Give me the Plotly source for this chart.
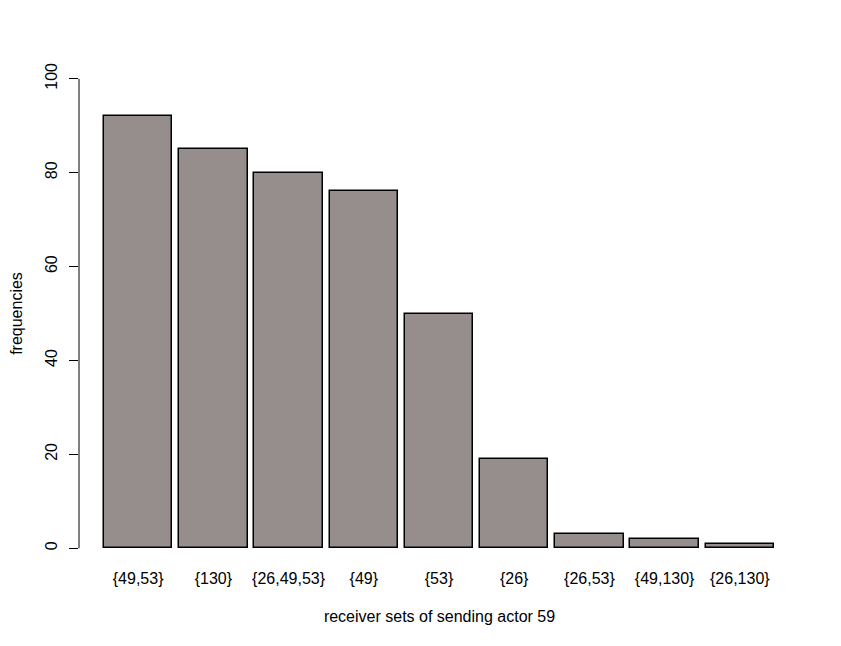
import plotly.graph_objects as go

# receiver sets of sending actor 59 and their frequencies
receiver_sets = ['{49,53}', '{130}', '{26,49,53}', '{49}', '{53}',
                 '{26}', '{26,53}', '{49,130}', '{26,130}']
frequencies = [92, 85, 80, 76, 50, 19, 3, 2, 1]

# R barplot style: width 1, space 0.1
bar_centers = [0.6 + i * 1.1 for i in range(len(receiver_sets))]
y_ticks = [0, 20, 40, 60, 80, 100]

fig = go.Figure()
fig.add_trace(go.Bar(
    x=bar_centers, y=frequencies, width=1.0,
    marker=dict(color='#968e8d', line=dict(color='black', width=1.5)),
    showlegend=False
))

# y axis line only spans 0..100 like base R
fig.add_shape(type='line', xref='paper', yref='y',
              x0=0, x1=0, y0=0, y1=100,
              line=dict(color='black', width=1))

# page body has an 8px margin, so margins are shifted by 8
fig.update_layout(
    width=841, height=646,
    paper_bgcolor='white', plot_bgcolor='white',
    font=dict(family='Liberation Sans, Arial, sans-serif', size=16, color='black'),
    margin=dict(l=71, r=49, t=52, b=87),
    xaxis=dict(
        range=[-0.265, 10.28], automargin=False,
        tickmode='array', tickvals=bar_centers, ticktext=receiver_sets,
        showgrid=False, zeroline=False, showline=False, ticks='',
        ticklabelstandoff=0,
        title=dict(text='receiver sets of sending actor 59', standoff=24,
                   font=dict(size=16))
    ),
    yaxis=dict(
        range=[-4, 104], automargin=False,
        tickmode='array', tickvals=y_ticks,
        tickangle=-90,
        showgrid=False, zeroline=False, showline=False,
        ticks='outside', ticklen=9, tickcolor='black', tickwidth=1,
        ticklabelstandoff=6,
        title=dict(text='frequencies', standoff=28, font=dict(size=16))
    ),
    bargap=0
)

fig.write_html("out.html")
